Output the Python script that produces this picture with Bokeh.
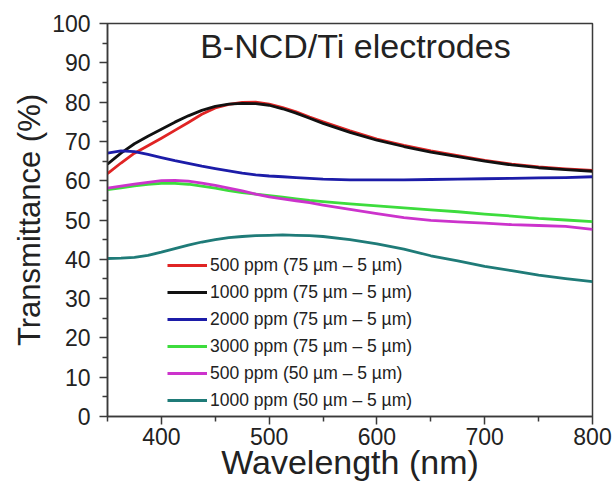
from bokeh.plotting import figure
from bokeh.models import FixedTicker, Label, Legend
from bokeh.embed import file_html
from bokeh.resources import INLINE

# ---- data ----
wavelength = [350, 362.5, 375, 387.5, 400, 412.5, 425, 437.5, 450, 462.5, 475, 487.5, 500, 512.5, 525, 537.5, 550,
              575, 600, 625, 650, 675, 700, 725, 750, 775, 800]
t_500_75 = [61.8, 64.5, 67.0, 68.9, 70.8, 72.8, 74.8, 76.9, 78.5, 79.4, 79.9, 80.0, 79.5, 78.6, 77.5, 76.2, 75.0,
            72.7, 70.6, 69.0, 67.6, 66.4, 65.2, 64.2, 63.5, 63.0, 62.6]
t_1000_75 = [64.2, 67.0, 69.4, 71.3, 73.1, 74.9, 76.5, 77.9, 78.9, 79.5, 79.7, 79.6, 79.2, 78.3, 77.2, 75.9, 74.6,
             72.3, 70.3, 68.7, 67.3, 66.1, 65.0, 64.0, 63.3, 62.8, 62.4]
t_2000_75 = [67.0, 67.6, 67.4, 66.7, 65.9, 65.1, 64.4, 63.7, 63.1, 62.5, 61.9, 61.5, 61.2, 61.0, 60.8, 60.6, 60.4,
             60.2, 60.2, 60.2, 60.3, 60.4, 60.5, 60.6, 60.7, 60.8, 61.0]
t_3000_75 = [57.7, 58.2, 58.7, 59.1, 59.3, 59.3, 59.1, 58.6, 58.1, 57.5, 57.0, 56.6, 56.2, 55.8, 55.4, 55.0, 54.7,
             54.1, 53.6, 53.1, 52.6, 52.1, 51.5, 51.0, 50.4, 50.0, 49.6]
t_500_50 = [58.1, 58.6, 59.1, 59.6, 60.0, 60.1, 59.9, 59.4, 58.8, 58.1, 57.4, 56.6, 55.9, 55.4, 54.9, 54.4, 53.8,
            52.7, 51.6, 50.6, 49.9, 49.5, 49.2, 48.8, 48.6, 48.4, 47.6]
t_1000_50 = [40.2, 40.3, 40.5, 41.0, 41.8, 42.7, 43.6, 44.4, 45.0, 45.5, 45.8, 46.0, 46.1, 46.2, 46.1, 46.0, 45.8,
             45.0, 43.9, 42.6, 40.9, 39.6, 38.2, 37.1, 36.0, 35.1, 34.3]

labels = [
    "500 ppm (75 µm – 5 µm)",
    "1000 ppm (75 µm – 5 µm)",
    "2000 ppm (75 µm – 5 µm)",
    "3000 ppm (75 µm – 5 µm)",
    "500 ppm (50 µm – 5 µm)",
    "1000 ppm (50 µm – 5 µm)",
]
series = [t_500_75, t_1000_75, t_2000_75, t_3000_75, t_500_50, t_1000_50]
colors = ["#e02424", "#111111", "#1c1ca8", "#3ddc3d", "#cc33cc", "#1f7b78"]

x_major = [400, 500, 600, 700, 800]
x_minor = [350, 450, 550, 650, 750]
y_major = list(range(0, 101, 10))
y_minor = list(range(5, 100, 10))

FONT = "Liberation Sans"
TXT = "#222222"
AX = "#3a3a3a"

p = figure(width=616, height=485, x_range=(350, 800), y_range=(0, 100),
           output_backend="svg", toolbar_location=None,
           min_border_left=107, min_border_right=24, min_border_top=23, min_border_bottom=69)
p.background_fill_color = "white"
p.border_fill_color = "white"
p.grid.visible = False
p.outline_line_color = AX
p.outline_line_width = 1.5

renderers = []
for ys, c, lab in zip(series, colors, labels):
    r = p.line(wavelength, ys, line_color=c, line_width=2.8, line_join="round")
    renderers.append((lab, [r]))

legend = Legend(items=renderers, location=(60, 4), orientation="vertical",
                glyph_width=40, glyph_height=24, label_height=24, spacing=3,
                padding=0, margin=0, label_standoff=3,
                label_text_font=FONT, label_text_font_size="17.5px", label_text_color=TXT,
                border_line_alpha=0, background_fill_alpha=0)
p.add_layout(legend, "center")

for ax in (p.xaxis[0], p.yaxis[0]):
    ax.axis_line_color = AX
    ax.axis_line_width = 1.5
    ax.major_tick_line_color = AX
    ax.minor_tick_line_color = AX
    ax.major_tick_line_width = 1.5
    ax.minor_tick_line_width = 1.5
    ax.major_tick_out = 8
    ax.major_tick_in = 0
    ax.minor_tick_out = 5
    ax.minor_tick_in = 0
    ax.major_label_text_font = FONT
    ax.major_label_text_font_size = "23px"
    ax.major_label_text_color = TXT
    ax.axis_label_text_font = FONT
    ax.axis_label_text_font_style = "normal"
    ax.axis_label_text_color = TXT

p.xaxis[0].ticker = FixedTicker(ticks=x_major, minor_ticks=x_minor)
p.yaxis[0].ticker = FixedTicker(ticks=y_major, minor_ticks=y_minor)
p.xaxis[0].axis_label = "Wavelength (nm)"
p.yaxis[0].axis_label = "Transmittance (%)"
p.xaxis[0].axis_label_text_font_size = "34px"
p.yaxis[0].axis_label_text_font_size = "31px"
p.xaxis[0].major_label_standoff = 3
p.yaxis[0].major_label_standoff = 9
p.xaxis[0].axis_label_standoff = -5
p.yaxis[0].axis_label_standoff = 2

title = Label(x=580, y=94.2, text="B-NCD/Ti electrodes", text_align="center",
              text_baseline="alphabetic", text_font=FONT, text_font_size="34px",
              text_color=TXT)
p.add_layout(title)

open("out.html", "w").write(file_html(p, INLINE))
